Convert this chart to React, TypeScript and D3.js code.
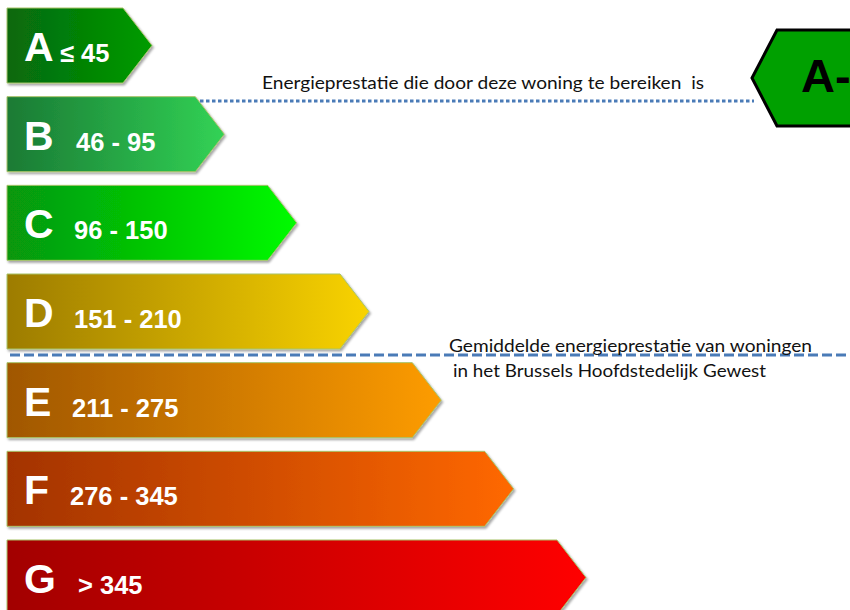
import React, { useEffect, useRef } from 'react';
import * as d3 from 'd3';

// energy classes, top to bottom
const classes = ['A', 'B', 'C', 'D', 'E', 'F', 'G'];
const ranges = ['≤ 45', '46 - 95', '96 - 150', '151 - 210', '211 - 275', '276 - 345', '> 345'];
// relative arrow length of each class
const lengths = [1, 2, 3, 4, 5, 6, 7];
const colorsLeft = ['#08680c', '#1a7a34', '#07960a', '#9d7c00', '#a05700', '#a33300', '#a20000'];
const colorsRight = ['#009c00', '#32d255', '#00fb00', '#f9d300', '#fd9c00', '#ff6800', '#ff0000'];
const rangeOffsets = [60, 76, 74, 74, 72, 70, 78];

const currentLabel = 'A-';
const currentText = 'Energieprestatie die door deze woning te bereiken  is';
const averageText = ['Gemiddelde energieprestatie van woningen', 'in het Brussels Hoofdstedelijk Gewest'];

const App = () => {
    const ref = useRef<SVGSVGElement>(null);

    useEffect(() => {
        const svg = d3.select(ref.current);
        svg.selectAll('*').remove();

        const y = d3.scaleBand()
            .domain(classes)
            .range([8, 615])
            .paddingInner(0.154)
            .paddingOuter(0);

        const tipX = d3.scaleLinear()
            .domain([1, 7])
            .range([152, 586]);

        const left = 7;
        const depth = 29;
        const h = y.bandwidth();

        const defs = svg.append('defs');
        classes.forEach((c, i) => {
            const g = defs.append('linearGradient')
                .attr('id', `grad-${c}`)
                .attr('x1', '0%').attr('x2', '100%')
                .attr('y1', '0%').attr('y2', '0%');
            g.append('stop').attr('offset', '0%').attr('stop-color', colorsLeft[i]);
            g.append('stop').attr('offset', '100%').attr('stop-color', colorsRight[i]);
        });
        const shadow = defs.append('filter').attr('id', 'shadow')
            .attr('x', '-5%').attr('y', '-10%').attr('width', '115%').attr('height', '130%');
        shadow.append('feDropShadow')
            .attr('dx', 1.5).attr('dy', 2).attr('stdDeviation', 1.2)
            .attr('flood-color', '#000').attr('flood-opacity', 0.35);

        // arrows
        const rows = svg.selectAll('.row')
            .data(classes)
            .enter()
            .append('g')
            .attr('class', 'row');

        rows.append('path')
            .attr('d', (c, i) => {
                const top = y(c)!;
                const tip = tipX(lengths[i]);
                return d3.line()([
                    [left, top],
                    [tip - depth, top],
                    [tip, top + h / 2],
                    [tip - depth, top + h],
                    [left, top + h],
                ]) + 'Z';
            })
            .attr('fill', c => `url(#grad-${c})`)
            .attr('stroke', '#a9c46a')
            .attr('stroke-width', 1)
            .attr('filter', 'url(#shadow)');

        rows.append('text')
            .attr('x', 24)
            .attr('y', c => y(c)! + 53)
            .attr('font-family', '"Liberation Sans", Arial, sans-serif')
            .attr('font-weight', 'bold')
            .attr('font-size', 41)
            .attr('fill', '#fff')
            .text(c => c);

        rows.append('text')
            .attr('x', (c, i) => rangeOffsets[i])
            .attr('y', c => y(c)! + 54)
            .attr('font-family', '"Liberation Sans", Arial, sans-serif')
            .attr('font-weight', 'bold')
            .attr('font-size', 25.5)
            .attr('fill', '#fff')
            .text((c, i) => ranges[i]);

        const note = (x: number, yy: number, len: number, s: string) =>
            svg.append('text')
                .attr('x', x)
                .attr('y', yy)
                .attr('font-family', 'Lato, "Open Sans", sans-serif')
                .attr('font-size', 17.5)
                .attr('fill', '#111')
                .attr('textLength', len)
                .attr('lengthAdjust', 'spacingAndGlyphs')
                .style('white-space', 'pre')
                .text(s);

        // current performance marker
        svg.append('line')
            .attr('x1', 200).attr('x2', 754)
            .attr('y1', 101).attr('y2', 101)
            .attr('stroke', '#4a7bb7')
            .attr('stroke-width', 3)
            .attr('stroke-dasharray', '3.5 2.5');

        note(262, 89, 442, currentText);

        svg.append('path')
            .attr('d', 'M752,78 L777,30 L875,30 L875,126 L777,126 Z')
            .attr('fill', '#00a000')
            .attr('stroke', '#000')
            .attr('stroke-width', 3);

        svg.append('text')
            .attr('x', 801)
            .attr('y', 92)
            .attr('font-family', '"Liberation Sans", Arial, sans-serif')
            .attr('font-weight', 'bold')
            .attr('font-size', 47)
            .attr('fill', '#000')
            .text(currentLabel);

        // regional average
        svg.append('line')
            .attr('x1', 10).attr('x2', 850)
            .attr('y1', 355).attr('y2', 355)
            .attr('stroke', '#4a7bb7')
            .attr('stroke-width', 3)
            .attr('stroke-dasharray', '10 4');

        note(449, 352, 363, averageText[0]);
        note(453, 377, 313, averageText[1]);
    }, []);

    return (
        <svg
            ref={ref}
            width="850"
            height="610"
            style={{ position: 'absolute', left: 0, top: 0, background: '#fff' }}
        ></svg>
    );
};

export default App;
